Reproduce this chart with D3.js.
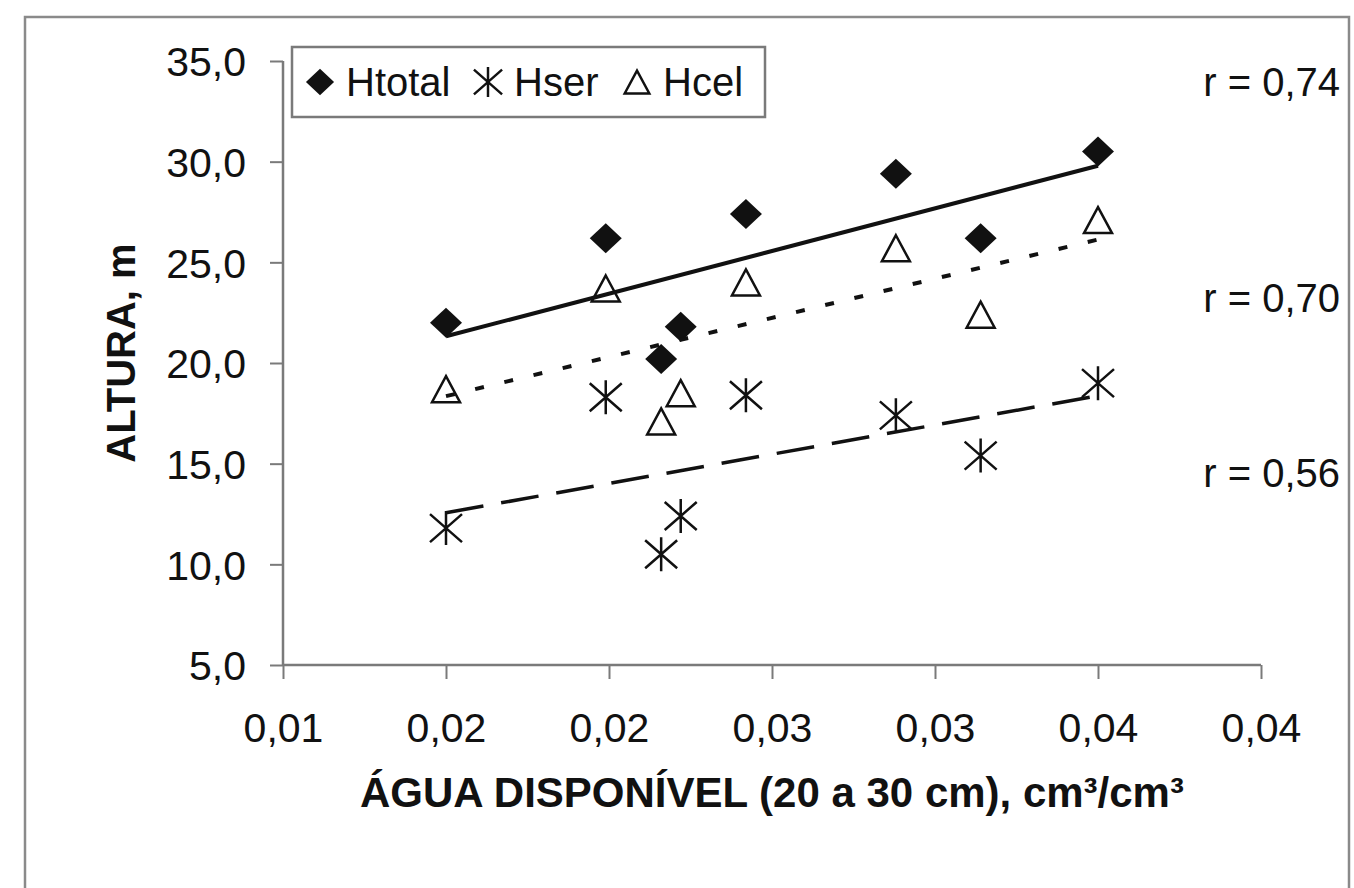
<!DOCTYPE html>
<html>
<head>
<meta charset="utf-8">
<script src="https://d3js.org/d3.v7.min.js"></script>
<style>
  body { margin: 0; background: #fff; }
  svg { display: block; font-family: "Liberation Sans", Arial, sans-serif; }
</style>
</head>
<body>
<svg width="1354" height="888"></svg>
<script>
// água disponível (cm3/cm3) de cada parcela
var agua = [0.0150, 0.0199, 0.0216, 0.0222, 0.0242, 0.0288, 0.0314, 0.0350];
// alturas (m)
var hTotal = [22.0, 26.2, 20.2, 21.8, 27.4, 29.4, 26.2, 30.5];
var hSer   = [11.8, 18.3, 10.5, 12.4, 18.4, 17.4, 15.4, 19.0];
var hCel   = [18.7, 23.7, 17.1, 18.5, 24.0, 25.7, 22.4, 27.1];

var seriesNames = ["Htotal", "Hser", "Hcel"];
var rLabels = ["r = 0,74", "r = 0,70", "r = 0,56"];

var xTicks = [0.010, 0.015, 0.020, 0.025, 0.030, 0.035, 0.040];
var xTickLabels = ["0,01", "0,02", "0,02", "0,03", "0,03", "0,04", "0,04"];
var yTicks = [5, 10, 15, 20, 25, 30, 35];

var svg = d3.select("svg");
var margin = {left: 283, top: 61},
    width = 978,
    height = 604;

var axisColor = "#7a7a7a";
var ink = "#111";

// moldura externa
svg.append("rect")
  .attr("x", 25).attr("y", 17)
  .attr("width", 1324).attr("height", 900)
  .attr("fill", "none")
  .attr("stroke", "#8a8a8a")
  .attr("stroke-width", 2.5);

var x = d3.scaleLinear().domain([0.010, 0.040]).range([0, width]);
var y = d3.scaleLinear().domain([5, 35]).range([height, 0]);

var fmt = d3.formatLocale({decimal: ",", thousands: ".", grouping: [3], currency: ["", ""]}).format(".1f");

var g = svg.append("g").attr("transform", "translate(" + margin.left + "," + margin.top + ")");

// eixo Y
var yAxis = g.append("g")
  .call(d3.axisLeft(y).tickValues(yTicks).tickFormat(fmt).tickSize(13).tickPadding(24));
// eixo X
var xAxis = g.append("g")
  .attr("transform", "translate(0," + height + ")")
  .call(d3.axisBottom(x).tickValues(xTicks)
        .tickFormat(function(d, i) { return xTickLabels[i]; })
        .tickSize(14).tickPadding(34));

[yAxis, xAxis].forEach(function(a) {
  a.select(".domain").attr("stroke", axisColor).attr("stroke-width", 2.5)
    .attr("d", a === yAxis ? "M0,0V" + height : "M0,0H" + width);
  a.selectAll(".tick line").attr("stroke", axisColor).attr("stroke-width", 2);
  a.selectAll(".tick text").attr("fill", ink)
    .style("font-size", "41px").style("font-family", "'Liberation Sans', Arial, sans-serif");
});
xAxis.selectAll(".tick text").attr("dy", "0.71em");
yAxis.selectAll(".tick text").attr("dy", "0.36em");

// marcadores
var diamond = "M0,-15L16,0L0,15L-16,0Z";
var star = "M0,-17V17M-16,-14L16,14M-16,14L16,-14";
var tri = "M0,-13L14,13L-14,13Z";

function drawMarkers(vals, path, filled) {
  g.append("g").selectAll("path")
    .data(vals)
    .enter().append("path")
    .attr("transform", function(d, i) { return "translate(" + x(agua[i]) + "," + y(d) + ")"; })
    .attr("d", path)
    .attr("fill", filled ? ink : "none")
    .attr("stroke", ink)
    .attr("stroke-width", filled ? 0 : 2.5);
}
drawMarkers(hTotal, diamond, true);
drawMarkers(hSer, star, false);
drawMarkers(hCel, tri, false);

// linhas de tendência (regressão linear)
function trend(vals) {
  var mx = d3.mean(agua), my = d3.mean(vals);
  var sxy = d3.sum(agua, function(v, i) { return (v - mx) * (vals[i] - my); });
  var sxx = d3.sum(agua, function(v) { return (v - mx) * (v - mx); });
  var b = sxy / sxx, a = my - b * mx;
  var ext = d3.extent(agua);
  return ext.map(function(v) { return [v, a + b * v]; });
}
var line = d3.line().x(function(d) { return x(d[0]); }).y(function(d) { return y(d[1]); });

g.append("path").datum(trend(hTotal)).attr("d", line)
  .attr("fill", "none").attr("stroke", ink).attr("stroke-width", 4);
g.append("path").datum(trend(hCel)).attr("d", line)
  .attr("fill", "none").attr("stroke", ink).attr("stroke-width", 4)
  .attr("stroke-dasharray", "9,21");
g.append("path").datum(trend(hSer)).attr("d", line)
  .attr("fill", "none").attr("stroke", ink).attr("stroke-width", 3.5)
  .attr("stroke-dasharray", "38,18");

// legenda
var legend = svg.append("g");
legend.append("rect")
  .attr("x", 292).attr("y", 47).attr("width", 473).attr("height", 70)
  .attr("fill", "#fff").attr("stroke", axisColor).attr("stroke-width", 2.5);
var legX = [320, 488, 637];
var legPaths = [diamond, star, tri];
seriesNames.forEach(function(name, i) {
  legend.append("path")
    .attr("transform", "translate(" + legX[i] + ",82) scale(0.88)")
    .attr("d", legPaths[i])
    .attr("fill", i === 0 ? ink : "none")
    .attr("stroke", ink)
    .attr("stroke-width", i === 0 ? 0 : 2.8);
  legend.append("text")
    .attr("x", legX[i] + 26).attr("y", 96)
    .attr("fill", ink).style("font-size", "40px")
    .text(name);
});

// coeficientes de correlação
var rY = [96, 312, 487];
rLabels.forEach(function(t, i) {
  svg.append("text")
    .attr("x", 1340).attr("y", rY[i])
    .attr("text-anchor", "end")
    .attr("fill", ink).style("font-size", "40px")
    .text(t);
});

// títulos dos eixos
svg.append("text")
  .attr("transform", "translate(135,353) rotate(-90)")
  .attr("text-anchor", "middle")
  .attr("fill", ink).style("font-size", "40px").style("font-weight", "bold")
  .text("ALTURA, m");

svg.append("text")
  .attr("x", margin.left + width / 2).attr("y", 807)
  .attr("text-anchor", "middle")
  .attr("fill", ink).style("font-size", "42px").style("font-weight", "bold")
  .text("ÁGUA DISPONÍVEL (20 a 30 cm), cm³/cm³");
</script>
</body>
</html>
